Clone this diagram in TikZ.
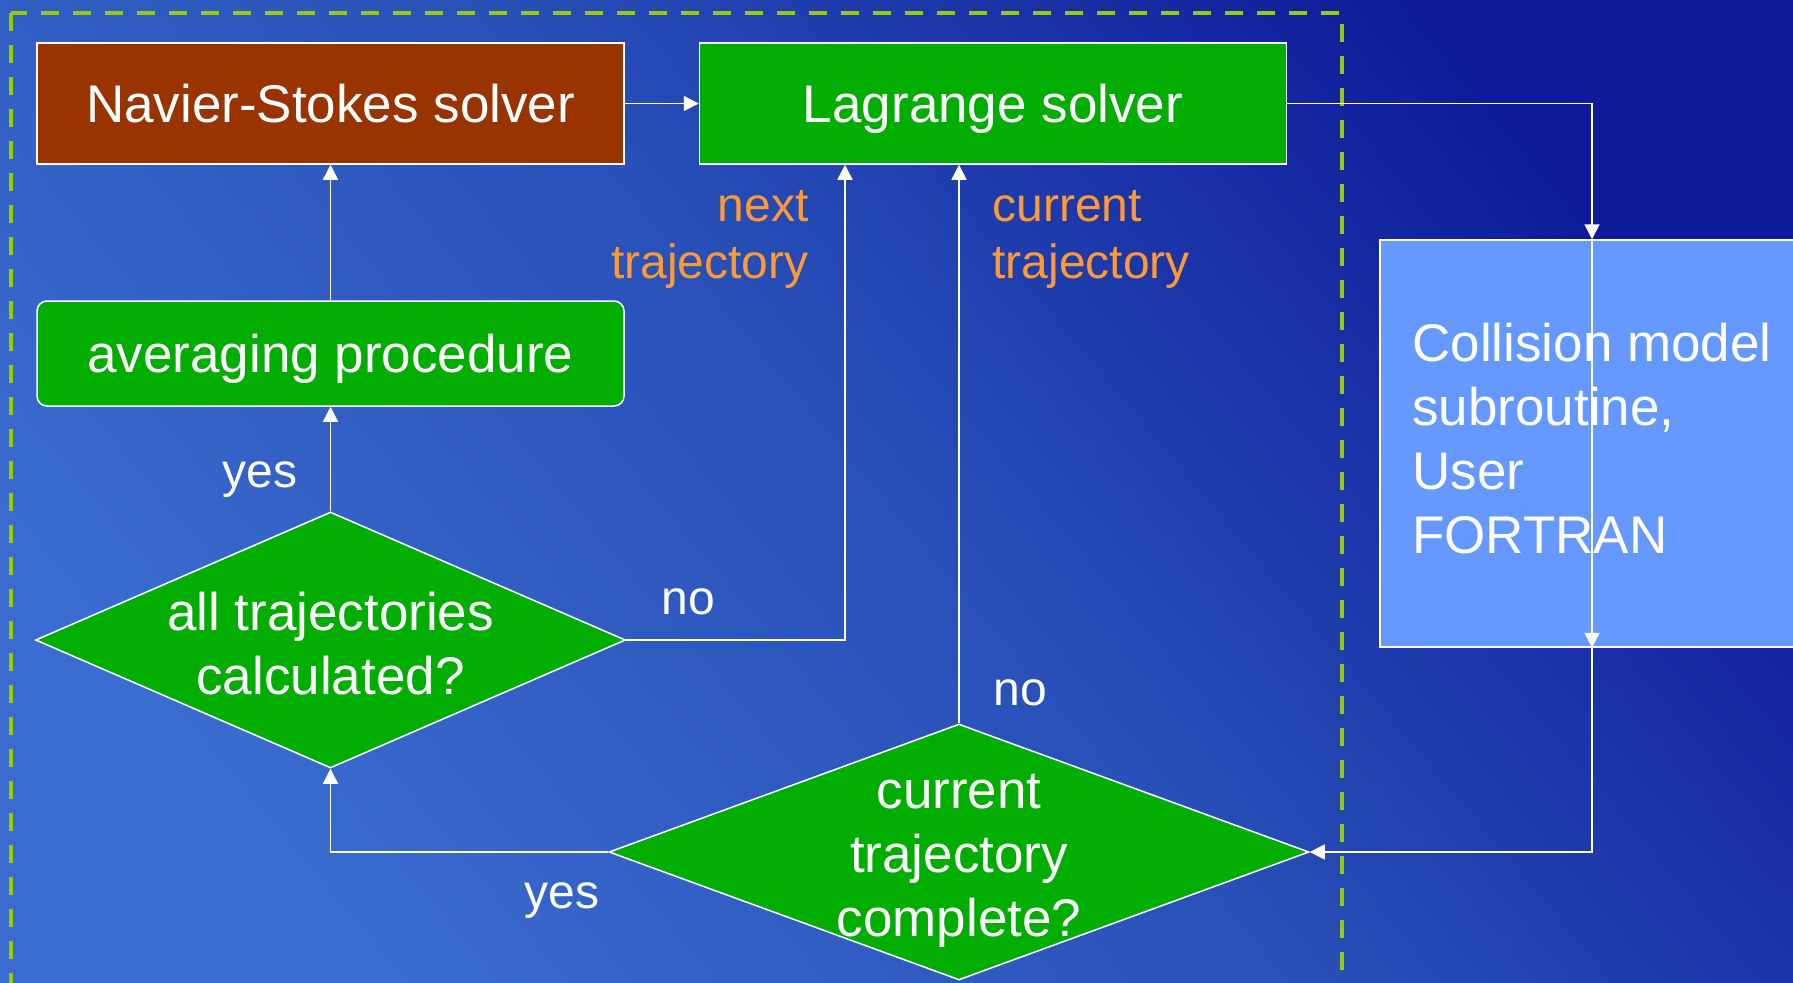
\documentclass[tikz,border=0pt]{standalone}
\usepackage{fontspec}
\setmainfont{Liberation Sans}
\usepackage{xcolor}
\usepackage{tikz}
\usetikzlibrary{shapes.geometric,arrows.meta}
\definecolor{nsbrown}{HTML}{993300}
\definecolor{flowgreen}{HTML}{00AD00}
\definecolor{collblue}{HTML}{6699FF}
\definecolor{labelorange}{HTML}{FF9933}
\definecolor{framegreen}{HTML}{99CC00}
\definecolor{bgdark}{HTML}{0E1A99}
\definecolor{bgmid}{HTML}{2850B8}
\definecolor{bglight}{HTML}{3A6CCF}

\begin{document}
\begin{tikzpicture}[x=0.5pt, y=-0.5pt,
		every node/.style={text=white, font=\fontsize{26.5}{32}\selectfont},
		solver/.style={rectangle, draw=white, line width=0.75pt, text depth=0pt, minimum width=293.5pt, minimum height=60.5pt},
		decision/.style={diamond, draw=white, line width=0.75pt, fill=flowgreen, inner sep=0pt, minimum height=128pt},
		tag/.style={inner sep=0pt, font=\fontsize{24}{28.5}\selectfont},
		flow/.style={draw=white, line width=0.75pt, -{Triangle[length=7.5pt, width=7.5pt]}}]
			\useasboundingbox (0,0) rectangle (1793,982);
			\shade[top color=bgdark, bottom color=bglight, middle color=bgmid, shading angle=-50] (0,0) rectangle (1793,982);
			\draw[framegreen, line width=2pt, dash pattern=on 9pt off 7pt] (11,13) rectangle (1342,1010);
			\node[solver, fill=nsbrown] at (330.5,103.5) (ns){Navier-Stokes solver};
			\node[solver, fill=flowgreen] at (993,103.5) (lag){Lagrange solver};
			\node[solver, fill=flowgreen, rounded corners=5pt, minimum height=52.5pt] at (330.5,353.5) (avg){averaging procedure};
			\node[decision, minimum width=295pt, label={[align=center, yshift=-1.75pt]center:all trajectories\\calculated?}] at (330.5,640) (all){};
			\node[decision, minimum width=350pt, label={[align=center, yshift=-4.5pt]center:current\\trajectory\\complete?}] at (959,852) (done){};
			\node[solver, fill=collblue, minimum width=212pt, minimum height=203.5pt, text depth=5pt, align=left] at (1592,443.5) (coll){Collision model\\subroutine,\\User\\FORTRAN};
			\coordinate (nextin) at (845,100);
			\node[tag, text=labelorange, align=right, anchor=east] at (809,239) (nextlbl){next\\trajectory};
			\node[tag, text=labelorange, align=left, anchor=west] at (992,239) (curlbl){current\\trajectory};
			\node[tag, anchor=base west] at (222,487) (yesavg){yes};
			\node[tag, anchor=base west] at (661,614) (nonext){no};
			\node[tag, anchor=base west] at (993,705) (nocur){no};
			\node[tag, anchor=base west] at (524,908) (yesall){yes};
			\draw[flow] (ns) -- (lag);
			\draw[flow] (lag.east) -| (coll.north);
			\draw[flow] (coll.north) -- (coll.south);
			\draw[flow] (coll.south) |- (done.east);
			\draw[flow] (done.north) -- (done.north |- lag.south);
			\draw[flow] (all.east) -| (nextin |- lag.south);
			\draw[flow] (done.west) -| (all.south);
			\draw[flow] (all.north) -- (avg.south);
			\draw[flow] (avg.north) -- (ns.south);
		\end{tikzpicture}
\end{document}
